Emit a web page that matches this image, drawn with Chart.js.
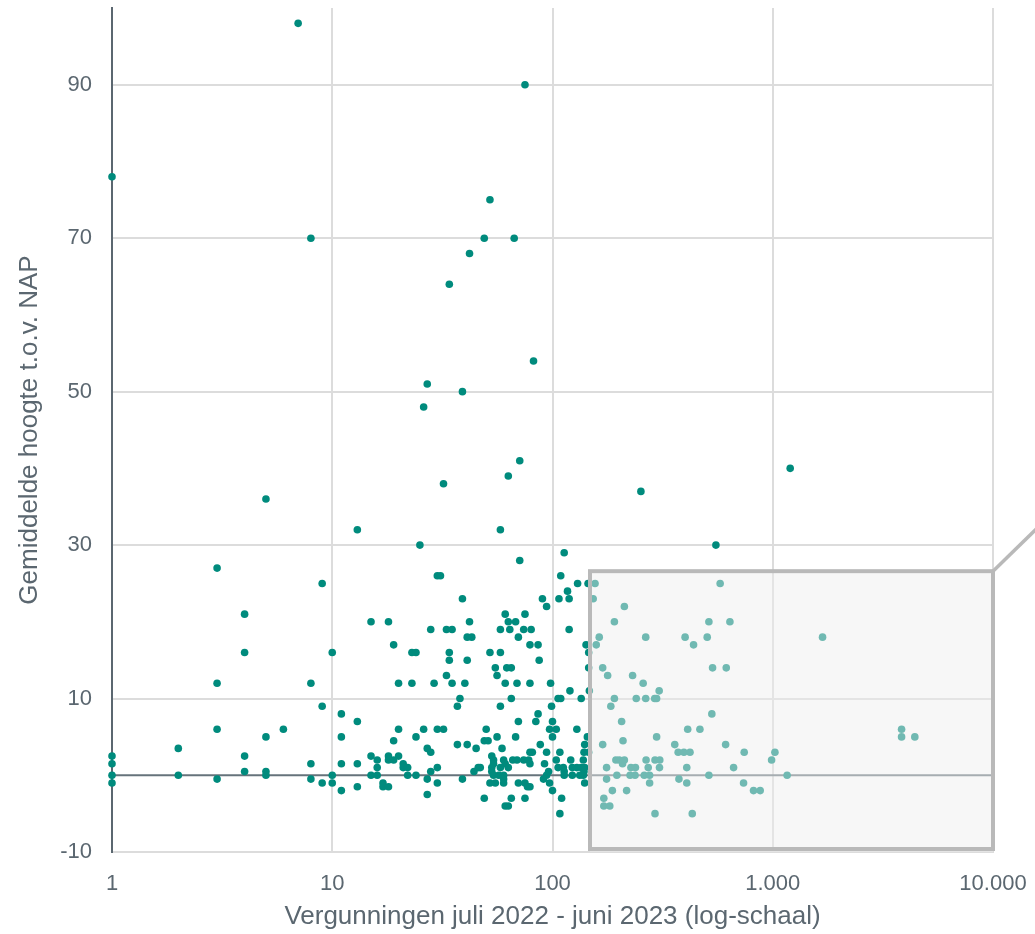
<!DOCTYPE html>
<html lang="nl">
<head>
<meta charset="utf-8">
<title>Vergunningen en hoogte t.o.v. NAP</title>
<script src="https://cdn.jsdelivr.net/npm/chart.js@4.4.1/dist/chart.umd.min.js"></script>
<style>
  html, body { margin: 0; padding: 0; background: #ffffff; }
  #wrap { width: 1035px; height: 934px; }
</style>
</head>
<body>
<div id="wrap"><canvas id="chart" width="1035" height="934"></canvas></div>
<script>
// Aantal vergunningen (juli 2022 - juni 2023) per gemeente
const vergunningen = [
  7, 75, 1, 52, 8, 49, 67, 42, 34, 82, 27, 39, 26, 1200, 71, 63, 32, 252, 5, 13, 58, 25, 552, 113, 71, 3,
  30, 31, 109, 9, 130, 145, 156, 577, 117, 39, 90, 107, 119, 153, 94, 212, 4, 61, 75, 15, 18, 42, 63, 68, 191, 513, 639,
  28, 33, 35, 58, 64, 74, 80, 119, 41, 43, 70, 163, 265, 400, 504, 1683, 19, 79, 86, 142, 158, 437, 4, 10, 23, 24, 34, 52, 58, 146,
  34, 41, 87, 55, 62, 65, 146, 169, 533, 615, 33, 56, 178, 231, 3, 8, 20, 23, 29, 35, 40, 61, 69, 79, 98, 258, 120, 147, 305,
  38, 65, 106, 109, 135, 191, 240, 265, 291, 297, 9, 37, 58, 99, 184, 11, 86, 529,
  13, 70, 84, 100, 206, 3, 6, 20, 26, 30, 32, 50, 97, 104, 129, 411, 467, 3845, 5, 11, 24, 56, 68, 100, 144, 297, 3845, 4416,
  19, 49, 51, 209, 37, 41, 88, 140, 169, 359, 611, 2, 27, 45, 59, 28, 79, 81, 94, 108, 139, 146, 372, 395, 421, 742, 1023,
  1, 1, 1, 1, 2, 3, 4, 4, 5, 5, 8, 8, 9, 10, 10, 11, 13, 15, 16, 16, 15, 16, 18, 18, 19, 20, 21, 21, 22, 22,
  24, 28, 30, 27, 30, 39, 44, 46, 47, 53, 54, 54, 53, 53, 54, 57, 60, 60, 52, 55, 60, 60, 61, 58, 63, 66, 69, 74, 78, 79,
  70, 75, 77, 79, 92, 96, 94, 91, 97, 104, 106, 112, 113, 113, 121, 123, 129, 123, 133, 135, 138, 138, 139, 140, 140,
  11, 13, 17, 17, 18, 27, 49, 65, 75, 61, 63, 100, 110, 108,
  988, 194, 201, 212, 208, 266, 292, 307, 176, 227, 238, 272, 306, 407, 664, 196, 225, 237, 261, 276, 513, 1162,
  176, 375, 276, 407, 737, 187, 217, 818, 877, 171, 171, 182, 292, 431
];

// Gemiddelde hoogte t.o.v. NAP (m) per gemeente, zelfde volgorde
const hoogte = [
  98, 90, 78, 75, 70, 70, 70, 68, 64, 54, 51, 50, 48, 40, 41, 39, 38, 37, 36, 32, 32, 30, 30, 29, 28, 27,
  26, 26, 26, 25, 25, 25, 25, 25, 24, 23, 23, 23, 23, 23, 22, 22, 21, 21, 21, 20, 20, 20, 20, 20, 20, 20, 20,
  19, 19, 19, 19, 19, 19, 19, 19, 18, 18, 18, 18, 18, 18, 18, 18, 17, 17, 17, 17, 17, 17, 16, 16, 16, 16, 16, 16, 16, 16,
  15, 15, 15, 14, 14, 14, 14, 14, 14, 14, 13, 13, 13, 13, 12, 12, 12, 12, 12, 12, 12, 12, 12, 12, 12, 12, 11, 11, 11,
  10, 10, 10, 10, 10, 10, 10, 10, 10, 10, 9, 9, 9, 9, 9, 8, 8, 8,
  7, 7, 7, 7, 7, 6, 6, 6, 6, 6, 6, 6, 6, 6, 6, 6, 6, 6, 5, 5, 5, 5, 5, 5, 5, 5, 5, 5,
  4.5, 4.5, 4.5, 4.5, 4, 4, 4, 4, 4, 4, 4, 3.5, 3.5, 3.5, 3.5, 3, 3, 3, 3, 3, 3, 3, 3, 3, 3, 3, 3,
  2.5, 1.5, 0, -1, 0, -0.5, 2.5, 0.5, 0.5, 0, 1.5, -0.5, -1, 0, -1, 1.5, 1.5, 2.5, 2, 1, 0, 0, 2.5, 2, 2, 2.5, 1.5, 1, 1, 0,
  0, 0.5, 1, -0.5, -1, -0.5, 0.5, 1, 1, 2.5, 2, 1.5, 1, 0.5, 0, 0, 0, -0.5, -1, -1, -1, 2, 1.5, 1, 1, 2, 2, 2, 2, 1.5,
  -1, -1, -1.5, -1.5, 1.5, 0.5, 0, -0.5, -1, 2, 1, 1, 0.5, 0, 2, 1, 1, 0, 0, 1, 2, 0, 0.5, 1, -1,
  -2, -1.5, -1, -1.5, -1.5, -2.5, -3, -3, -3, -4, -4, -2, -3, -5,
  2, 2, 2, 2, 1.5, 2, 2, 2, 1, 1, 1, 1, 1, 1, 1, 0, 0, 0, 0, 0, 0, 0,
  -0.5, -0.5, -1, -1, -1, -2, -2, -2, -2, -3, -4, -4, -5, -5
];

// As-indeling
const xTickValues = [1, 10, 100, 1000, 10000];
const xTickLabels = ['1', '10', '100', '1.000', '10.000'];
const yTickValues = [-10, 10, 30, 50, 70, 90];
const yTickLabels = ['-10', '10', '30', '50', '70', '90'];

// Nullijn (NAP = 0)
const nulLijnX = [1, 10000];
const nulLijnY = [0, 0];

// Uitvergroot gebied rechtsonder (in data-eenheden)
const uitsnedeX = [148, 10000];
const uitsnedeY = [-10, 26.6];

const TEAL = '#008b7d';
const TEXT = '#5b6770';
const GRID = '#dcdcdc';
const FONT = "'Liberation Sans', Arial, Helvetica, sans-serif";

const punten = vergunningen.map((v, i) => ({ x: v, y: hoogte[i] }));
const nulLijn = nulLijnX.map((v, i) => ({ x: v, y: nulLijnY[i] }));

// Vaste maten voor de assen, zonder extra randruimte voor de labels
function vasteMaat(prop, size) {
  return s => {
    s[prop] = size;
    s.paddingTop = 0;
    s.paddingBottom = 0;
    s.paddingLeft = 0;
    s.paddingRight = 0;
  };
}

// Lichtgrijs kader over het uitvergrote gebied, met verbindingslijn naar rechtsboven
const uitsnedePlugin = {
  id: 'uitsnede',
  afterDatasetsDraw(chart) {
    const { ctx, scales: { x, y } } = chart;
    const left = x.getPixelForValue(uitsnedeX[0]);
    const right = x.getPixelForValue(uitsnedeX[1]);
    const top = y.getPixelForValue(uitsnedeY[1]);
    const bottom = y.getPixelForValue(uitsnedeY[0]);
    ctx.save();
    ctx.fillStyle = 'rgba(238,238,238,0.47)';
    ctx.fillRect(left, top, right - left, bottom - top);
    ctx.strokeStyle = '#b9b9b9';
    ctx.lineWidth = 4;
    ctx.strokeRect(left, top, right - left, bottom - top - 3);
    ctx.lineWidth = 3.5;
    ctx.beginPath();
    ctx.moveTo(right, top);
    ctx.lineTo(right + 80, top - 78);
    ctx.stroke();
    ctx.restore();
  }
};

new Chart(document.getElementById('chart'), {
  type: 'scatter',
  data: {
    datasets: [
      {
        type: 'line',
        data: nulLijn,
        borderColor: '#66737b',
        borderWidth: 2,
        pointRadius: 0,
        fill: false,
        order: 2
      },
      {
        data: punten,
        backgroundColor: TEAL,
        borderWidth: 0,
        pointRadius: 3.8,
        pointHoverRadius: 3.8,
        clip: false,
        order: 1
      }
    ]
  },
  options: {
    responsive: false,
    animation: false,
    devicePixelRatio: 1,
    layout: { padding: { top: 8, right: 42, bottom: 0, left: 0 } },
    plugins: {
      legend: { display: false },
      tooltip: { enabled: false }
    },
    scales: {
      x: {
        type: 'logarithmic',
        min: 1,
        max: 10000,
        afterBuildTicks: s => { s.ticks = xTickValues.map(v => ({ value: v })); },
        afterFit: vasteMaat('height', 82),
        grid: { color: GRID, lineWidth: 2, drawTicks: false },
        border: { color: GRID, width: 2 },
        ticks: {
          autoSkip: false,
          maxRotation: 0,
          padding: 19,
          color: TEXT,
          font: { family: FONT, size: 22 },
          callback: (v, i) => xTickLabels[i]
        },
        title: {
          display: true,
          text: 'Vergunningen juli 2022 - juni 2023 (log-schaal)',
          color: TEXT,
          font: { family: FONT, size: 26 },
          padding: { top: 0, bottom: 2 }
        }
      },
      y: {
        type: 'linear',
        min: -10,
        max: 100,
        afterBuildTicks: s => { s.ticks = yTickValues.map(v => ({ value: v })); },
        afterFit: vasteMaat('width', 112),
        grid: { color: GRID, lineWidth: 2, drawTicks: false },
        border: { color: '#5b6770', width: 2 },
        ticks: {
          padding: 20,
          color: TEXT,
          font: { family: FONT, size: 22 },
          callback: (v, i) => yTickLabels[i]
        },
        title: {
          display: true,
          text: 'Gemiddelde hoogte t.o.v. NAP',
          color: TEXT,
          font: { family: FONT, size: 26 },
          padding: { top: 14, bottom: 0 }
        }
      }
    }
  },
  plugins: [uitsnedePlugin]
});
</script>
</body>
</html>
